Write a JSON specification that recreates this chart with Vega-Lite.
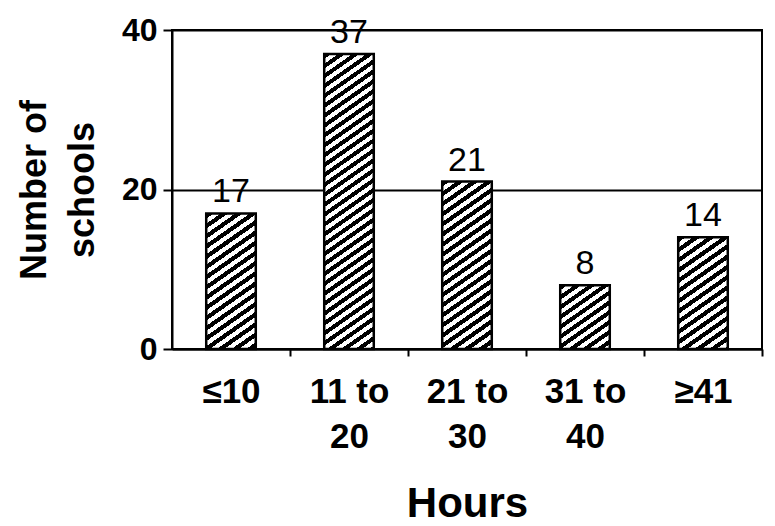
{
  "$schema": "https://vega.github.io/schema/vega-lite/v6.json",
  "width": 590,
  "height": 319,
  "autosize": {"type": "none"},
  "padding": {"left": 172, "top": 30, "right": 13, "bottom": 177},
  "background": "white",
  "config": {"font": "Liberation Sans", "view": {"stroke": "black", "strokeWidth": 2}},
  "data": {"values": [
    {"hours": "≤10", "schools": 17},
    {"hours": "11 to 20", "schools": 37},
    {"hours": "21 to 30", "schools": 21},
    {"hours": "31 to 40", "schools": 8},
    {"hours": "≥41", "schools": 14}
  ]},
  "encoding": {
    "x": {
      "field": "hours", "type": "nominal", "sort": null,
      "scale": {"domain": ["≤10", "11 to 20", "21 to 30", "31 to 40", "≥41"], "paddingInner": 0, "paddingOuter": 0},
      "axis": {
        "title": "Hours", "labelAngle": 0, "labelFontSize": 35, "labelFontWeight": "bold", "labelColor": "black",
        "labelLineHeight": 45, "labelPadding": 18,
        "labelExpr": "isString(datum.value) ? split(replace(datum.value, ' to ', ' to|'), '|') : ''",
        "tickOffset": 59, "labelOffset": -59,
        "tickSize": 7, "tickColor": "black", "tickWidth": 2,
        "domainColor": "black", "domainWidth": 2, "grid": false,
        "titleFontSize": 42, "titleFontWeight": "bold", "titleColor": "black",
        "titleBaseline": "alphabetic", "titleY": 167, "titleX": 295, "titleAlign": "center"
      }
    },
    "y": {
      "field": "schools", "type": "quantitative",
      "scale": {"domain": [0, 40], "nice": false},
      "axis": {
        "title": ["Number of", "schools"], "values": [0, 20, 40],
        "labelFontSize": 32, "labelFontWeight": "bold", "labelColor": "black", "labelPadding": 6,
        "tickSize": 9, "tickColor": "black", "tickWidth": 2,
        "domainColor": "black", "domainWidth": 2,
        "grid": true, "gridColor": "black", "gridWidth": 2, "gridOpacity": 1,
        "titleFontSize": 36, "titleFontWeight": "bold", "titleColor": "black",
        "titleAngle": -90, "titleBaseline": "alphabetic", "titleAlign": "center",
        "titleLineHeight": 48, "titleX": -127, "titleY": 159.5
      }
    }
  },
  "layer": [
    {
      "transform": [{"filter": "datum.hours === '≤10'"}],
      "mark": {"type": "bar", "stroke": "black", "strokeWidth": 2.5, "width": {"band": 0.42}, "fill": {"gradient": "linear", "x1": 0, "y1": 0, "x2": 0.3016, "y2": 1.1787, "stops": [
        {"offset": 0, "color": "#000"}, {"offset": 0.03, "color": "#000"}, {"offset": 0.03, "color": "#fff"}, {"offset": 0.06, "color": "#fff"},
        {"offset": 0.06, "color": "#000"}, {"offset": 0.09, "color": "#000"}, {"offset": 0.09, "color": "#fff"}, {"offset": 0.12, "color": "#fff"},
        {"offset": 0.12, "color": "#000"}, {"offset": 0.15, "color": "#000"}, {"offset": 0.15, "color": "#fff"}, {"offset": 0.18, "color": "#fff"},
        {"offset": 0.18, "color": "#000"}, {"offset": 0.21, "color": "#000"}, {"offset": 0.21, "color": "#fff"}, {"offset": 0.24, "color": "#fff"},
        {"offset": 0.24, "color": "#000"}, {"offset": 0.27, "color": "#000"}, {"offset": 0.27, "color": "#fff"}, {"offset": 0.30, "color": "#fff"},
        {"offset": 0.30, "color": "#000"}, {"offset": 0.33, "color": "#000"}, {"offset": 0.33, "color": "#fff"}, {"offset": 0.36, "color": "#fff"},
        {"offset": 0.36, "color": "#000"}, {"offset": 0.39, "color": "#000"}, {"offset": 0.39, "color": "#fff"}, {"offset": 0.42, "color": "#fff"},
        {"offset": 0.42, "color": "#000"}, {"offset": 0.45, "color": "#000"}, {"offset": 0.45, "color": "#fff"}, {"offset": 0.48, "color": "#fff"},
        {"offset": 0.48, "color": "#000"}, {"offset": 0.51, "color": "#000"}, {"offset": 0.51, "color": "#fff"}, {"offset": 0.54, "color": "#fff"},
        {"offset": 0.54, "color": "#000"}, {"offset": 0.57, "color": "#000"}, {"offset": 0.57, "color": "#fff"}, {"offset": 0.60, "color": "#fff"},
        {"offset": 0.60, "color": "#000"}, {"offset": 0.63, "color": "#000"}, {"offset": 0.63, "color": "#fff"}, {"offset": 0.66, "color": "#fff"},
        {"offset": 0.66, "color": "#000"}, {"offset": 0.69, "color": "#000"}, {"offset": 0.69, "color": "#fff"}, {"offset": 0.72, "color": "#fff"},
        {"offset": 0.72, "color": "#000"}, {"offset": 0.75, "color": "#000"}, {"offset": 0.75, "color": "#fff"}, {"offset": 0.78, "color": "#fff"},
        {"offset": 0.78, "color": "#000"}, {"offset": 0.81, "color": "#000"}, {"offset": 0.81, "color": "#fff"}, {"offset": 0.84, "color": "#fff"},
        {"offset": 0.84, "color": "#000"}, {"offset": 0.87, "color": "#000"}, {"offset": 0.87, "color": "#fff"}, {"offset": 0.90, "color": "#fff"},
        {"offset": 0.90, "color": "#000"}, {"offset": 0.93, "color": "#000"}, {"offset": 0.93, "color": "#fff"}, {"offset": 0.96, "color": "#fff"},
        {"offset": 0.96, "color": "#000"}, {"offset": 0.99, "color": "#000"}, {"offset": 0.99, "color": "#fff"}, {"offset": 1, "color": "#fff"}
      ]}}
    },
    {
      "transform": [{"filter": "datum.hours === '11 to 20'"}],
      "mark": {"type": "bar", "stroke": "black", "strokeWidth": 2.5, "width": {"band": 0.42}, "fill": {"gradient": "linear", "x1": 0, "y1": 0, "x2": 0.1296, "y2": 1.10236, "stops": [
        {"offset": 0, "color": "#000"}, {"offset": 0.015, "color": "#000"}, {"offset": 0.015, "color": "#fff"}, {"offset": 0.03, "color": "#fff"},
        {"offset": 0.03, "color": "#000"}, {"offset": 0.045, "color": "#000"}, {"offset": 0.045, "color": "#fff"}, {"offset": 0.06, "color": "#fff"},
        {"offset": 0.06, "color": "#000"}, {"offset": 0.075, "color": "#000"}, {"offset": 0.075, "color": "#fff"}, {"offset": 0.09, "color": "#fff"},
        {"offset": 0.09, "color": "#000"}, {"offset": 0.105, "color": "#000"}, {"offset": 0.105, "color": "#fff"}, {"offset": 0.12, "color": "#fff"},
        {"offset": 0.12, "color": "#000"}, {"offset": 0.135, "color": "#000"}, {"offset": 0.135, "color": "#fff"}, {"offset": 0.15, "color": "#fff"},
        {"offset": 0.15, "color": "#000"}, {"offset": 0.165, "color": "#000"}, {"offset": 0.165, "color": "#fff"}, {"offset": 0.18, "color": "#fff"},
        {"offset": 0.18, "color": "#000"}, {"offset": 0.195, "color": "#000"}, {"offset": 0.195, "color": "#fff"}, {"offset": 0.21, "color": "#fff"},
        {"offset": 0.21, "color": "#000"}, {"offset": 0.225, "color": "#000"}, {"offset": 0.225, "color": "#fff"}, {"offset": 0.24, "color": "#fff"},
        {"offset": 0.24, "color": "#000"}, {"offset": 0.255, "color": "#000"}, {"offset": 0.255, "color": "#fff"}, {"offset": 0.27, "color": "#fff"},
        {"offset": 0.27, "color": "#000"}, {"offset": 0.285, "color": "#000"}, {"offset": 0.285, "color": "#fff"}, {"offset": 0.30, "color": "#fff"},
        {"offset": 0.30, "color": "#000"}, {"offset": 0.315, "color": "#000"}, {"offset": 0.315, "color": "#fff"}, {"offset": 0.33, "color": "#fff"},
        {"offset": 0.33, "color": "#000"}, {"offset": 0.345, "color": "#000"}, {"offset": 0.345, "color": "#fff"}, {"offset": 0.36, "color": "#fff"},
        {"offset": 0.36, "color": "#000"}, {"offset": 0.375, "color": "#000"}, {"offset": 0.375, "color": "#fff"}, {"offset": 0.39, "color": "#fff"},
        {"offset": 0.39, "color": "#000"}, {"offset": 0.405, "color": "#000"}, {"offset": 0.405, "color": "#fff"}, {"offset": 0.42, "color": "#fff"},
        {"offset": 0.42, "color": "#000"}, {"offset": 0.435, "color": "#000"}, {"offset": 0.435, "color": "#fff"}, {"offset": 0.45, "color": "#fff"},
        {"offset": 0.45, "color": "#000"}, {"offset": 0.465, "color": "#000"}, {"offset": 0.465, "color": "#fff"}, {"offset": 0.48, "color": "#fff"},
        {"offset": 0.48, "color": "#000"}, {"offset": 0.495, "color": "#000"}, {"offset": 0.495, "color": "#fff"}, {"offset": 0.51, "color": "#fff"},
        {"offset": 0.51, "color": "#000"}, {"offset": 0.525, "color": "#000"}, {"offset": 0.525, "color": "#fff"}, {"offset": 0.54, "color": "#fff"},
        {"offset": 0.54, "color": "#000"}, {"offset": 0.555, "color": "#000"}, {"offset": 0.555, "color": "#fff"}, {"offset": 0.57, "color": "#fff"},
        {"offset": 0.57, "color": "#000"}, {"offset": 0.585, "color": "#000"}, {"offset": 0.585, "color": "#fff"}, {"offset": 0.60, "color": "#fff"},
        {"offset": 0.60, "color": "#000"}, {"offset": 0.615, "color": "#000"}, {"offset": 0.615, "color": "#fff"}, {"offset": 0.63, "color": "#fff"},
        {"offset": 0.63, "color": "#000"}, {"offset": 0.645, "color": "#000"}, {"offset": 0.645, "color": "#fff"}, {"offset": 0.66, "color": "#fff"},
        {"offset": 0.66, "color": "#000"}, {"offset": 0.675, "color": "#000"}, {"offset": 0.675, "color": "#fff"}, {"offset": 0.69, "color": "#fff"},
        {"offset": 0.69, "color": "#000"}, {"offset": 0.705, "color": "#000"}, {"offset": 0.705, "color": "#fff"}, {"offset": 0.72, "color": "#fff"},
        {"offset": 0.72, "color": "#000"}, {"offset": 0.735, "color": "#000"}, {"offset": 0.735, "color": "#fff"}, {"offset": 0.75, "color": "#fff"},
        {"offset": 0.75, "color": "#000"}, {"offset": 0.765, "color": "#000"}, {"offset": 0.765, "color": "#fff"}, {"offset": 0.78, "color": "#fff"},
        {"offset": 0.78, "color": "#000"}, {"offset": 0.795, "color": "#000"}, {"offset": 0.795, "color": "#fff"}, {"offset": 0.81, "color": "#fff"},
        {"offset": 0.81, "color": "#000"}, {"offset": 0.825, "color": "#000"}, {"offset": 0.825, "color": "#fff"}, {"offset": 0.84, "color": "#fff"},
        {"offset": 0.84, "color": "#000"}, {"offset": 0.855, "color": "#000"}, {"offset": 0.855, "color": "#fff"}, {"offset": 0.87, "color": "#fff"},
        {"offset": 0.87, "color": "#000"}, {"offset": 0.885, "color": "#000"}, {"offset": 0.885, "color": "#fff"}, {"offset": 0.90, "color": "#fff"},
        {"offset": 0.90, "color": "#000"}, {"offset": 0.915, "color": "#000"}, {"offset": 0.915, "color": "#fff"}, {"offset": 0.93, "color": "#fff"},
        {"offset": 0.93, "color": "#000"}, {"offset": 0.945, "color": "#000"}, {"offset": 0.945, "color": "#fff"}, {"offset": 0.96, "color": "#fff"},
        {"offset": 0.96, "color": "#000"}, {"offset": 0.975, "color": "#000"}, {"offset": 0.975, "color": "#fff"}, {"offset": 0.99, "color": "#fff"},
        {"offset": 0.99, "color": "#000"}, {"offset": 1, "color": "#000"}
      ]}}
    },
    {
      "transform": [{"filter": "datum.hours === '21 to 30'"}],
      "mark": {"type": "bar", "stroke": "black", "strokeWidth": 2.5, "width": {"band": 0.42}, "fill": {"gradient": "linear", "x1": 0, "y1": 0, "x2": 0.23976, "y2": 1.15748, "stops": [
        {"offset": 0, "color": "#000"}, {"offset": 0.025, "color": "#000"}, {"offset": 0.025, "color": "#fff"}, {"offset": 0.05, "color": "#fff"},
        {"offset": 0.05, "color": "#000"}, {"offset": 0.075, "color": "#000"}, {"offset": 0.075, "color": "#fff"}, {"offset": 0.1, "color": "#fff"},
        {"offset": 0.1, "color": "#000"}, {"offset": 0.125, "color": "#000"}, {"offset": 0.125, "color": "#fff"}, {"offset": 0.15, "color": "#fff"},
        {"offset": 0.15, "color": "#000"}, {"offset": 0.175, "color": "#000"}, {"offset": 0.175, "color": "#fff"}, {"offset": 0.2, "color": "#fff"},
        {"offset": 0.2, "color": "#000"}, {"offset": 0.225, "color": "#000"}, {"offset": 0.225, "color": "#fff"}, {"offset": 0.25, "color": "#fff"},
        {"offset": 0.25, "color": "#000"}, {"offset": 0.275, "color": "#000"}, {"offset": 0.275, "color": "#fff"}, {"offset": 0.3, "color": "#fff"},
        {"offset": 0.3, "color": "#000"}, {"offset": 0.325, "color": "#000"}, {"offset": 0.325, "color": "#fff"}, {"offset": 0.35, "color": "#fff"},
        {"offset": 0.35, "color": "#000"}, {"offset": 0.375, "color": "#000"}, {"offset": 0.375, "color": "#fff"}, {"offset": 0.4, "color": "#fff"},
        {"offset": 0.4, "color": "#000"}, {"offset": 0.425, "color": "#000"}, {"offset": 0.425, "color": "#fff"}, {"offset": 0.45, "color": "#fff"},
        {"offset": 0.45, "color": "#000"}, {"offset": 0.475, "color": "#000"}, {"offset": 0.475, "color": "#fff"}, {"offset": 0.5, "color": "#fff"},
        {"offset": 0.5, "color": "#000"}, {"offset": 0.525, "color": "#000"}, {"offset": 0.525, "color": "#fff"}, {"offset": 0.55, "color": "#fff"},
        {"offset": 0.55, "color": "#000"}, {"offset": 0.575, "color": "#000"}, {"offset": 0.575, "color": "#fff"}, {"offset": 0.6, "color": "#fff"},
        {"offset": 0.6, "color": "#000"}, {"offset": 0.625, "color": "#000"}, {"offset": 0.625, "color": "#fff"}, {"offset": 0.65, "color": "#fff"},
        {"offset": 0.65, "color": "#000"}, {"offset": 0.675, "color": "#000"}, {"offset": 0.675, "color": "#fff"}, {"offset": 0.7, "color": "#fff"},
        {"offset": 0.7, "color": "#000"}, {"offset": 0.725, "color": "#000"}, {"offset": 0.725, "color": "#fff"}, {"offset": 0.75, "color": "#fff"},
        {"offset": 0.75, "color": "#000"}, {"offset": 0.775, "color": "#000"}, {"offset": 0.775, "color": "#fff"}, {"offset": 0.8, "color": "#fff"},
        {"offset": 0.8, "color": "#000"}, {"offset": 0.825, "color": "#000"}, {"offset": 0.825, "color": "#fff"}, {"offset": 0.85, "color": "#fff"},
        {"offset": 0.85, "color": "#000"}, {"offset": 0.875, "color": "#000"}, {"offset": 0.875, "color": "#fff"}, {"offset": 0.9, "color": "#fff"},
        {"offset": 0.9, "color": "#000"}, {"offset": 0.925, "color": "#000"}, {"offset": 0.925, "color": "#fff"}, {"offset": 0.95, "color": "#fff"},
        {"offset": 0.95, "color": "#000"}, {"offset": 0.975, "color": "#000"}, {"offset": 0.975, "color": "#fff"}, {"offset": 1, "color": "#fff"}
      ]}}
    },
    {
      "transform": [{"filter": "datum.hours === '31 to 40'"}],
      "mark": {"type": "bar", "stroke": "black", "strokeWidth": 2.5, "width": {"band": 0.42}, "fill": {"gradient": "linear", "x1": 0, "y1": 0, "x2": 0.6478, "y2": 1.19147, "stops": [
        {"offset": 0, "color": "#000"}, {"offset": 0.05, "color": "#000"}, {"offset": 0.05, "color": "#fff"}, {"offset": 0.1, "color": "#fff"},
        {"offset": 0.1, "color": "#000"}, {"offset": 0.15, "color": "#000"}, {"offset": 0.15, "color": "#fff"}, {"offset": 0.2, "color": "#fff"},
        {"offset": 0.2, "color": "#000"}, {"offset": 0.25, "color": "#000"}, {"offset": 0.25, "color": "#fff"}, {"offset": 0.3, "color": "#fff"},
        {"offset": 0.3, "color": "#000"}, {"offset": 0.35, "color": "#000"}, {"offset": 0.35, "color": "#fff"}, {"offset": 0.4, "color": "#fff"},
        {"offset": 0.4, "color": "#000"}, {"offset": 0.45, "color": "#000"}, {"offset": 0.45, "color": "#fff"}, {"offset": 0.5, "color": "#fff"},
        {"offset": 0.5, "color": "#000"}, {"offset": 0.55, "color": "#000"}, {"offset": 0.55, "color": "#fff"}, {"offset": 0.6, "color": "#fff"},
        {"offset": 0.6, "color": "#000"}, {"offset": 0.65, "color": "#000"}, {"offset": 0.65, "color": "#fff"}, {"offset": 0.7, "color": "#fff"},
        {"offset": 0.7, "color": "#000"}, {"offset": 0.75, "color": "#000"}, {"offset": 0.75, "color": "#fff"}, {"offset": 0.8, "color": "#fff"},
        {"offset": 0.8, "color": "#000"}, {"offset": 0.85, "color": "#000"}, {"offset": 0.85, "color": "#fff"}, {"offset": 0.9, "color": "#fff"},
        {"offset": 0.9, "color": "#000"}, {"offset": 0.95, "color": "#000"}, {"offset": 0.95, "color": "#fff"}, {"offset": 1, "color": "#fff"}
      ]}}
    },
    {
      "transform": [{"filter": "datum.hours === '≥41'"}],
      "mark": {"type": "bar", "stroke": "black", "strokeWidth": 2.5, "width": {"band": 0.42}, "fill": {"gradient": "linear", "x1": 0, "y1": 0, "x2": 0.37139, "y2": 1.19532, "stops": [
        {"offset": 0, "color": "#000"}, {"offset": 0.035, "color": "#000"}, {"offset": 0.035, "color": "#fff"}, {"offset": 0.07, "color": "#fff"},
        {"offset": 0.07, "color": "#000"}, {"offset": 0.105, "color": "#000"}, {"offset": 0.105, "color": "#fff"}, {"offset": 0.14, "color": "#fff"},
        {"offset": 0.14, "color": "#000"}, {"offset": 0.175, "color": "#000"}, {"offset": 0.175, "color": "#fff"}, {"offset": 0.21, "color": "#fff"},
        {"offset": 0.21, "color": "#000"}, {"offset": 0.245, "color": "#000"}, {"offset": 0.245, "color": "#fff"}, {"offset": 0.28, "color": "#fff"},
        {"offset": 0.28, "color": "#000"}, {"offset": 0.315, "color": "#000"}, {"offset": 0.315, "color": "#fff"}, {"offset": 0.35, "color": "#fff"},
        {"offset": 0.35, "color": "#000"}, {"offset": 0.385, "color": "#000"}, {"offset": 0.385, "color": "#fff"}, {"offset": 0.42, "color": "#fff"},
        {"offset": 0.42, "color": "#000"}, {"offset": 0.455, "color": "#000"}, {"offset": 0.455, "color": "#fff"}, {"offset": 0.49, "color": "#fff"},
        {"offset": 0.49, "color": "#000"}, {"offset": 0.525, "color": "#000"}, {"offset": 0.525, "color": "#fff"}, {"offset": 0.56, "color": "#fff"},
        {"offset": 0.56, "color": "#000"}, {"offset": 0.595, "color": "#000"}, {"offset": 0.595, "color": "#fff"}, {"offset": 0.63, "color": "#fff"},
        {"offset": 0.63, "color": "#000"}, {"offset": 0.665, "color": "#000"}, {"offset": 0.665, "color": "#fff"}, {"offset": 0.70, "color": "#fff"},
        {"offset": 0.70, "color": "#000"}, {"offset": 0.735, "color": "#000"}, {"offset": 0.735, "color": "#fff"}, {"offset": 0.77, "color": "#fff"},
        {"offset": 0.77, "color": "#000"}, {"offset": 0.805, "color": "#000"}, {"offset": 0.805, "color": "#fff"}, {"offset": 0.84, "color": "#fff"},
        {"offset": 0.84, "color": "#000"}, {"offset": 0.875, "color": "#000"}, {"offset": 0.875, "color": "#fff"}, {"offset": 0.91, "color": "#fff"},
        {"offset": 0.91, "color": "#000"}, {"offset": 0.945, "color": "#000"}, {"offset": 0.945, "color": "#fff"}, {"offset": 0.98, "color": "#fff"},
        {"offset": 0.98, "color": "#000"}, {"offset": 1, "color": "#000"}
      ]}}
    },
    {
      "mark": {"type": "text", "dy": -11, "baseline": "alphabetic", "fontSize": 34, "fill": "black"},
      "encoding": {"text": {"field": "schools", "type": "quantitative"}}
    }
  ]
}
